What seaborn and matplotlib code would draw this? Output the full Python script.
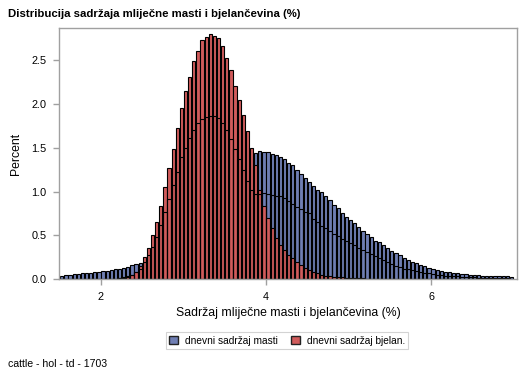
import numpy as np
import pandas as pd
import matplotlib
matplotlib.use("Agg")
import matplotlib.pyplot as plt
from matplotlib.patches import Patch
import seaborn as sns

sns.set_style("white")
plt.rcParams["font.family"] = ["Liberation Sans", "DejaVu Sans"]
plt.rcParams["text.color"] = "black"
plt.rcParams["axes.labelcolor"] = "black"

# ---------------------------------------------------------
# data: percent per 0.05 bin, bins start at 1.50
# ---------------------------------------------------------
bin_start = 1.5
bin_width = 0.05

fat_pct = [
    0.03, 0.05, 0.05, 0.055, 0.06, 0.065, 0.07, 0.07, 0.08, 0.08,
    0.09, 0.095, 0.10, 0.11, 0.12, 0.13, 0.14, 0.155, 0.17, 0.185,
    0.20, 0.23, 0.26, 0.30, 0.35, 0.40, 0.46, 0.53, 0.60, 0.68,
    0.76, 0.84, 0.92, 1.00, 1.07, 1.14, 1.20, 1.25, 1.30, 1.34,
    1.37, 1.40, 1.42, 1.43, 1.44, 1.44, 1.45, 1.44, 1.46, 1.45,
    1.45, 1.43, 1.42, 1.40, 1.37, 1.33, 1.30, 1.25, 1.20, 1.15,
    1.11, 1.06, 1.02, 0.99, 0.95, 0.90, 0.85, 0.81, 0.76, 0.71,
    0.67, 0.64, 0.59, 0.55, 0.51, 0.48, 0.44, 0.42, 0.39, 0.35,
    0.32, 0.30, 0.27, 0.24, 0.22, 0.20, 0.18, 0.16, 0.145, 0.13,
    0.115, 0.10, 0.09, 0.085, 0.08, 0.07, 0.065, 0.06, 0.06, 0.05,
    0.05, 0.045, 0.04, 0.04, 0.04, 0.04, 0.04, 0.035, 0.035, 0.02,
]

protein_pct = [
    0, 0, 0, 0, 0, 0, 0, 0, 0, 0,
    0, 0, 0, 0.003, 0.008, 0.015, 0.025, 0.045, 0.08, 0.15,
    0.25, 0.35, 0.50, 0.65, 0.84, 1.05, 1.27, 1.49, 1.73, 1.95,
    2.15, 2.31, 2.49, 2.61, 2.73, 2.77, 2.80, 2.78, 2.76, 2.66,
    2.53, 2.39, 2.21, 2.05, 1.88, 1.69, 1.50, 1.30, 1.02, 0.84,
    0.70, 0.58, 0.47, 0.39, 0.33, 0.28, 0.24, 0.20, 0.16, 0.13,
    0.10, 0.08, 0.065, 0.05, 0.04, 0.035, 0.027, 0.022, 0.018, 0.015,
    0.012, 0.01, 0.008, 0.006, 0.005, 0.004, 0.003, 0.002, 0.002, 0.001,
    0, 0, 0, 0, 0, 0, 0, 0, 0, 0,
    0, 0, 0, 0, 0, 0, 0, 0, 0, 0,
    0, 0, 0, 0, 0, 0, 0, 0, 0, 0,
]

# third overlay seen in the reference only as bar outlines
outline_pct = [
    0, 0, 0, 0, 0, 0, 0, 0, 0, 0,
    0, 0, 0, 0.005, 0.01, 0.02, 0.035, 0.05, 0.08, 0.12,
    0.20, 0.28, 0.37, 0.48, 0.62, 0.77, 0.92, 1.08, 1.22, 1.39,
    1.50, 1.61, 1.70, 1.78, 1.83, 1.85, 1.86, 1.86, 1.84, 1.78,
    1.70, 1.60, 1.49, 1.37, 1.25, 1.12, 1.02, 0.97, 0.97, 0.98,
    0.97, 0.96, 0.95, 0.95, 0.93, 0.89, 0.86, 0.82, 0.80, 0.77,
    0.75, 0.69, 0.65, 0.61, 0.58, 0.55, 0.52, 0.49, 0.46, 0.43,
    0.41, 0.39, 0.36, 0.33, 0.31, 0.29, 0.26, 0.24, 0.22, 0.20,
    0.17, 0.15, 0.14, 0.12, 0.11, 0.10, 0.09, 0.08, 0.07, 0.065,
    0.06, 0.05, 0.045, 0.04, 0.035, 0.03, 0.03, 0.025, 0.02, 0.02,
    0.018, 0.015, 0.013, 0.012, 0.01, 0.01, 0.008, 0.007, 0.006, 0.005,
]

x_ticks = [2, 4, 6]
y_ticks = [0.0, 0.5, 1.0, 1.5, 2.0, 2.5]

fat_label = "dnevni sadržaj masti"
protein_label = "dnevni sadržaj bjelan."

n_bins = len(fat_pct)
df = pd.DataFrame({
    "center": bin_start + bin_width * (np.arange(n_bins) + 0.5),
    "fat": fat_pct,
    "protein": protein_pct,
    "outline": outline_pct,
})
bin_range = (bin_start, bin_start + bin_width * n_bins)

fat_color = "#6F7EB3"
protein_color = "#D05B5B"
frame_color = "#A0A0A0"

# =========================================================
# plot
# =========================================================
fig = plt.figure(figsize=(5.29, 3.78), dpi=100)
ax = fig.add_axes([59 / 529, 1 - 279 / 378, 458 / 529, 251 / 378])

common = dict(data=df, x="center", binwidth=bin_width, binrange=bin_range,
              stat="count", shrink=0.8, ax=ax)
sns.histplot(weights="fat", color=fat_color, alpha=1, edgecolor="black",
             linewidth=0.8, **common)
sns.histplot(weights="protein", color=protein_color, alpha=1, edgecolor="black",
             linewidth=0.8, **common)
sns.histplot(weights="outline", fill=False, color="black", linewidth=0.8, **common)

ax.set_xlim(1.491, 7.042)
ax.set_ylim(0, 2.87)
ax.set_xticks(x_ticks)
ax.set_xticklabels([str(t) for t in x_ticks])
ax.set_yticks(y_ticks)
ax.set_yticklabels([f"{t:.1f}" for t in y_ticks])
ax.tick_params(axis="both", direction="out", length=4, width=1, color=frame_color,
               labelcolor="black", labelsize=7.8, pad=5, bottom=True, left=True)
for s in ax.spines.values():
    s.set_color(frame_color)
    s.set_linewidth(1)

ax.set_xlabel("Sadržaj mliječne masti i bjelančevina (%)", fontsize=8.8)
ax.xaxis.set_label_coords(0.5, -0.112)
ax.set_ylabel("Percent", fontsize=8.8)
ax.yaxis.set_label_coords(-0.08, 0.5)

fig.text(8 / 529, 1 - 14 / 378, "Distribucija sadržaja mliječne masti i bjelančevina (%)",
         fontsize=8.2, fontweight="bold", va="center", ha="left")
fig.text(8 / 529, 1 - 364 / 378, "cattle - hol - td - 1703", fontsize=7.6, va="center", ha="left")

handles = [Patch(facecolor=fat_color, edgecolor="#222222", label=fat_label),
           Patch(facecolor=protein_color, edgecolor="#222222", label=protein_label)]
leg = fig.legend(handles=handles, loc="center", bbox_to_anchor=(287 / 529, 1 - 340.5 / 378),
                 ncol=2, fontsize=7.3, frameon=True, fancybox=False, handlelength=0.9,
                 handleheight=0.9, handletextpad=0.7, columnspacing=1.3,
                 borderpad=0.3, edgecolor="#C8C8C8")
leg.get_frame().set_linewidth(0.8)

fig.savefig("out.png", dpi=100)
